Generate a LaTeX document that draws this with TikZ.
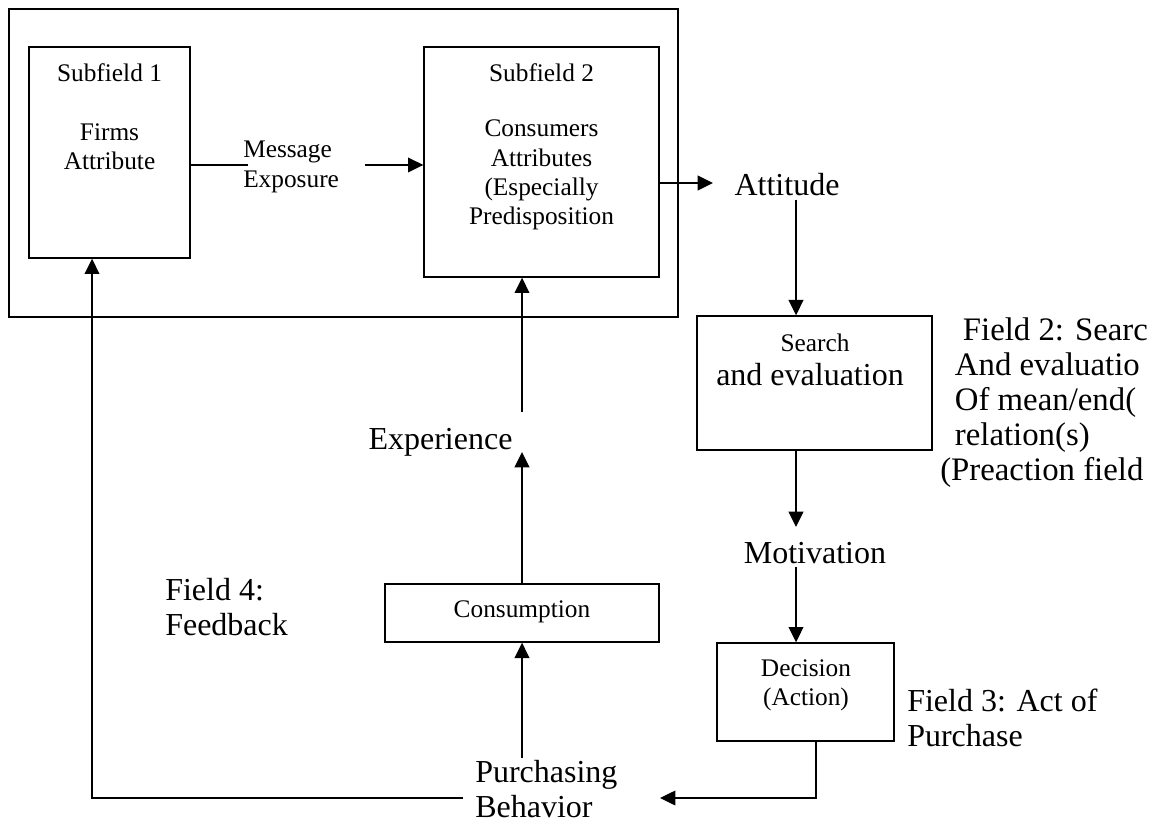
\documentclass[tikz,border=0pt]{standalone}
\usepackage{fontspec}
\setmainfont{Liberation Serif}
\usetikzlibrary{arrows.meta,fit}
\begin{document}
\begin{tikzpicture}[x=0.75pt,y=-0.75pt,
  sm/.style={font=\fontsize{19}{22}\selectfont, align=center, inner sep=0pt},
  bg/.style={font=\fontsize{24}{26.25}\selectfont, align=center, inner sep=0pt},
  boxx/.style={draw, line width=1pt, inner sep=0pt},
  arr/.style={line width=1.5pt, -{Triangle[length=11.5pt,width=11pt]}},
  ln/.style={line width=1.1pt}]
\useasboundingbox (0,0) rectangle (1153,823);
\clip (0,0) rectangle (1153,823);
% boxes
\node[boxx, fit={(9,9) (678,317)}] (outer) {};
\node[boxx, fit={(29,47) (190,258)}] (sub1) {};
\node[boxx, fit={(424,47) (659,277)}] (sub2) {};
\node[boxx, fit={(697,316) (932,450)}] (srch) {};
\node[boxx, fit={(717,643) (894,741)}] (dec) {};
\node[boxx, fit={(385,584) (659,642)}] (cons) {};
% texts
\node[sm] (s1t) at (109.5,73) {Subfield 1};
\node[sm] (s1b) at (109.5,147) {Firms\\Attribute};
\node[sm, align=left, anchor=west] (me) at (243,167) {Message\\Exposure};
\node[sm] (s2t) at (541.5,73) {Subfield 2};
\node[sm] (s2b) at (541.5,175) {Consumers\\Attributes\\(Especially\\Predisposition};
\node[bg] (att) at (787,185) {Attitude};
\node[sm] (st) at (815,343) {Search};
\node[bg] (sb) at (810,375) {and evaluation};
\node[bg, align=left, anchor=west, font=\fontsize{24.6}{26.25}\selectfont] (f2) at (940,403) {\hspace*{17pt}Field 2: Searc\\\hspace*{11pt}And evaluatio\\\hspace*{11pt}Of mean/end(\\\hspace*{11pt}relation(s)\\(Preaction field};
\node[bg] (mot) at (815,553) {Motivation};
\node[sm] (dect) at (806,685) {Decision\\(Action)};
\node[bg, align=left, anchor=west] (f3) at (907,717.5) {Field 3: Act of\\Purchase};
\node[sm] (const) at (522,612) {Consumption};
\node[bg] (exp) at (440.5,442) {Experience};
\node[bg, align=left, anchor=west] (f4) at (165,607.5) {Field 4:\\Feedback};
\node[bg, align=left, anchor=west] (pb) at (475,789.5) {Purchasing\\Behavior};
% free ends
\coordinate (meA) at (248,165);
\coordinate (meB) at (365,165);
\coordinate (attT) at (713,183);
\coordinate (attB) at (796,200);
\coordinate (motT) at (796,527);
\coordinate (motB) at (796,567);
\coordinate (pbR) at (660,798);
\coordinate (pbL) at (463,798);
\coordinate (pbT) at (522,758);
\coordinate (expT) at (522,452);
\coordinate (expB) at (522,412);
% connectors
\draw[ln] (sub1.east |- meA) -- (meA);
\draw[arr] (meB) -- (sub2.west |- meB);
\draw[arr] (sub2.east |- attT) -- (attT);
\draw[arr] (attB) -- (attB |- srch.north);
\draw[arr] (motT |- srch.south) -- (motT);
\draw[arr] (motB) -- (motB |- dec.north);
\draw[arr, line width=1.1pt] ([xshift=7.9pt]dec.south) |- (pbR);
\draw[arr, line width=1.2pt] (pbL) -| ([xshift=-13.1pt]sub1.south);
\draw[arr] (pbT) -- (cons.south);
\draw[arr] (cons.north) -- (expT);
\draw[arr] (expB) -- (expB |- sub2.south);
\end{tikzpicture}
\end{document}
